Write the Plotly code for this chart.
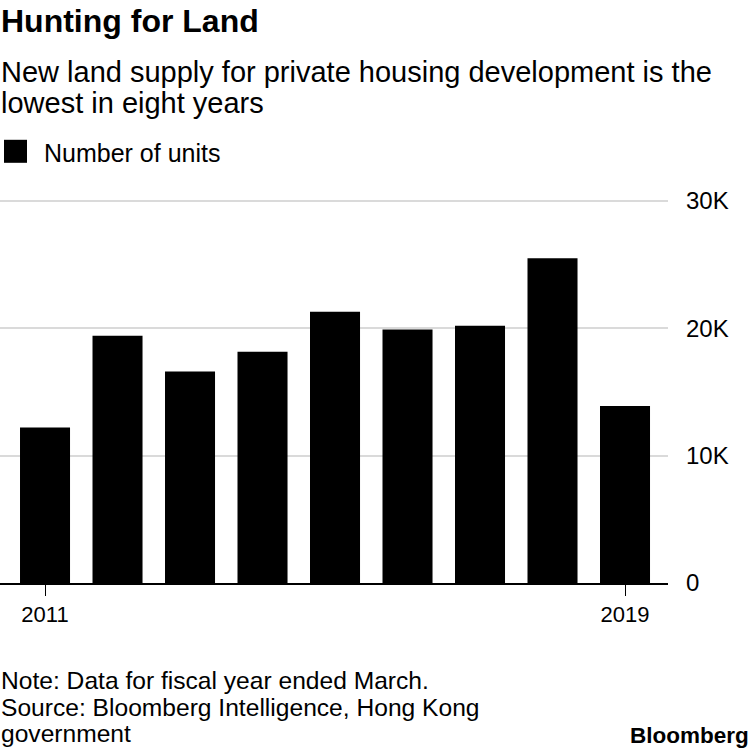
import plotly.graph_objects as go

years = [2011, 2012, 2013, 2014, 2015, 2016, 2017, 2018, 2019]
units = [12200, 19400, 16600, 18150, 21300, 19900, 20200, 25500, 13900]
y_tickvals = [0, 10000, 20000, 30000]
y_ticktext = ["0", "10K", "20K", "30K"]
x_tickvals = [2011, 2019]

title = "Hunting for Land"
subtitle_lines = ["New land supply for private housing development is the",
                  "lowest in eight years"]
legend_label = "Number of units"
footer_lines = ["Note: Data for fiscal year ended March.",
                "Source: Bloomberg Intelligence, Hong Kong",
                "government"]

W, H = 750, 748
Y_MAX = 30300
PLOT_L, PLOT_R = 0, 668
PLOT_B = 583
PLOT_T = PLOT_B - (583 - 201) * Y_MAX / 30000
FONT = "Liberation Sans, Arial, sans-serif"


def px_x(px):
    return (px - PLOT_L) / (PLOT_R - PLOT_L)


def px_y(py):
    return (PLOT_B - py) / (PLOT_B - PLOT_T)


fig = go.Figure()
fig.add_trace(go.Bar(x=years, y=units, marker=dict(color="#000000", line=dict(width=0)),
                     width=0.69, showlegend=False, hoverinfo="skip"))

annotations = []


def add_text(text, x_px, y_px, size, bold=False, xanchor="left"):
    annotations.append(dict(
        text=f"<b>{text}</b>" if bold else text,
        x=px_x(x_px), y=px_y(y_px), xref="paper", yref="paper",
        xanchor=xanchor, yanchor="middle", showarrow=False,
        font=dict(family=FONT, size=size, color="#000000"),
    ))


add_text(title, -1, 21, 32, bold=True)
add_text(subtitle_lines[0], -1, 72, 29)
add_text(subtitle_lines[1], -1, 103, 29)
add_text(legend_label, 42, 153, 25)
for line, yy in zip(footer_lines, [680, 707, 733]):
    add_text(line, -1, yy, 24.6)
add_text("Bloomberg", 751, 735, 22.5, bold=True, xanchor="right")

shapes = [dict(type="rect", xref="paper", yref="paper",
               x0=px_x(4), x1=px_x(27), y0=px_y(163), y1=px_y(140),
               fillcolor="#000000", line=dict(width=0))]

fig.update_layout(
    width=W, height=H,
    margin=dict(l=PLOT_L, r=W - PLOT_R, t=round(PLOT_T), b=H - PLOT_B, pad=0),
    paper_bgcolor="#ffffff", plot_bgcolor="#ffffff",
    annotations=annotations, shapes=shapes,
    font=dict(family=FONT, color="#000000"),
    xaxis=dict(
        range=[2010.379, 2019.593], tickvals=x_tickvals, ticktext=[str(v) for v in x_tickvals],
        ticks="outside", ticklen=11, tickwidth=1.2, tickcolor="#000000",
        showline=True, linecolor="#000000", linewidth=2,
        showgrid=False, zeroline=False, tickfont=dict(size=22, family=FONT),
        fixedrange=True,
    ),
    yaxis=dict(
        range=[0, Y_MAX], tickvals=y_tickvals, ticktext=y_ticktext,
        side="right", showgrid=True, gridcolor="#dadada", gridwidth=2,
        zeroline=False, showline=False, ticks="", ticklabelstandoff=17,
        tickfont=dict(size=24, family=FONT), fixedrange=True,
    ),
)

fig.write_html("out.html", config={"displayModeBar": False},
               post_script="document.body.style.margin='0';document.body.style.padding='0';")
